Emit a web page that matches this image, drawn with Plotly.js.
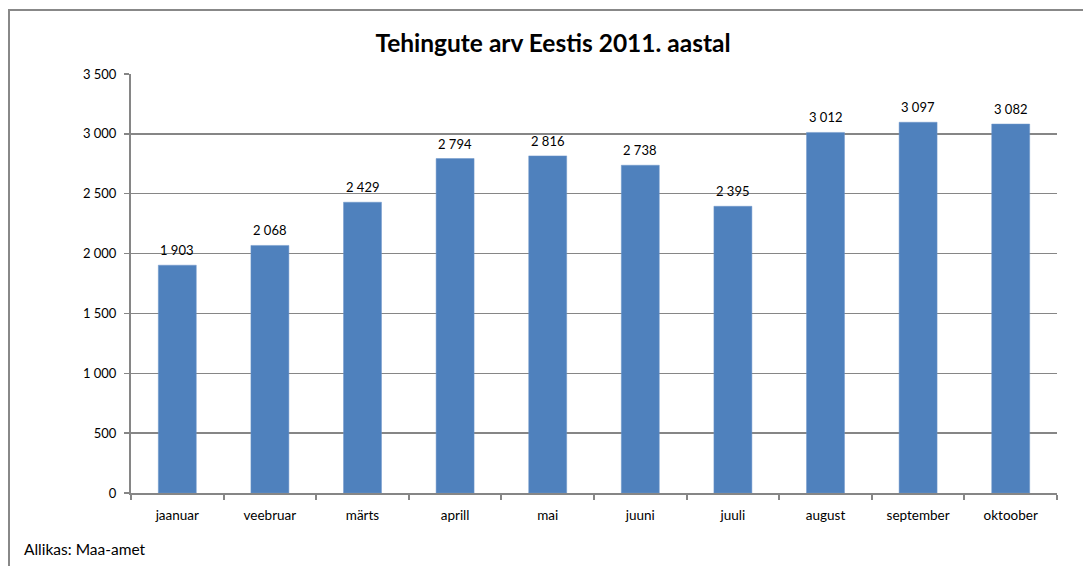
<!DOCTYPE html>
<html><head><meta charset="utf-8">
<script src="https://cdn.plot.ly/plotly-3.0.1.min.js"></script>
<style>
html,body{margin:0;padding:0;background:#fff;}
#wrap{position:relative;width:1083px;height:566px;overflow:hidden;}
#chart{position:absolute;left:0;top:0;width:1083px;height:566px;}
#frame{position:absolute;left:8px;top:9px;width:1100px;height:600px;border:2px solid #888;pointer-events:none;}
</style></head>
<body>
<div id="wrap"><div id="chart"></div><div id="frame"></div></div>
<script>
const months = ["jaanuar","veebruar","märts","aprill","mai","juuni","juuli","august","september","oktoober"];
const deals = [1903, 2068, 2429, 2794, 2816, 2738, 2395, 3012, 3097, 3082];
const yTicks = [0, 500, 1000, 1500, 2000, 2500, 3000, 3500];
const titleText = "Tehingute arv Eestis 2011. aastal";
const sourceText = "Allikas: Maa-amet";

const FONT = "Lato, 'Noto Sans', sans-serif";
const fmt = v => String(v).replace(/\B(?=(\d{3})+(?!\d))/g, " ");

const trace = {
  type: "bar", x: months, y: deals,
  marker: {color: "#4F81BD", line: {color: "#6F97CB", width: 0.5}},
  width: 0.41, hoverinfo: "skip"
};
const valueLabels = months.map((m, i) => ({
  x: m, y: deals[i], xref: "x", yref: "y", text: fmt(deals[i]),
  showarrow: false, yanchor: "bottom", yshift: 5,
  font: {family: FONT, size: 13, color: "#000"}
}));
const layout = {
  width: 1083, height: 566,
  margin: {l: 131, r: 26, t: 74, b: 73},
  paper_bgcolor: "rgba(0,0,0,0)", plot_bgcolor: "rgba(0,0,0,0)",
  separators: ", ",
  font: {family: FONT, size: 13, color: "#000"},
  title: {text: "<b>" + titleText + "</b>", xref: "container", x: 553/1083, xanchor: "center",
          yref: "container", y: 1 - 43/566, yanchor: "middle",
          font: {family: FONT, size: 24.5, color: "#000"}},
  xaxis: {type: "category", showgrid: false, showline: true, linecolor: "#868686", linewidth: 2,
          ticks: "outside", tickson: "boundaries", ticklen: 5, tickcolor: "#868686", tickwidth: 2,
          tickfont: {size: 13.5}, ticklabelstandoff: 9, fixedrange: true},
  yaxis: {range: [0, 3500], tickvals: yTicks, tickformat: ",d", showgrid: true, gridcolor: "#868686",
          gridwidth: 1.5, showline: true, linecolor: "#868686", linewidth: 2, ticks: "outside",
          ticklen: 5, tickcolor: "#868686", tickwidth: 1.5, zeroline: false, tickfont: {size: 13},
          ticklabelstandoff: 5, fixedrange: true},
  showlegend: false,
  annotations: valueLabels.concat([{text: sourceText, xref: "paper", yref: "paper", x: -0.118, y: -0.134,
                 xanchor: "left", yanchor: "middle", showarrow: false,
                 font: {family: FONT, size: 15.5, color: "#000"}}])
};
Plotly.newPlot("chart", [trace], layout, {staticPlot: true, displayModeBar: false});
</script>
</body></html>
